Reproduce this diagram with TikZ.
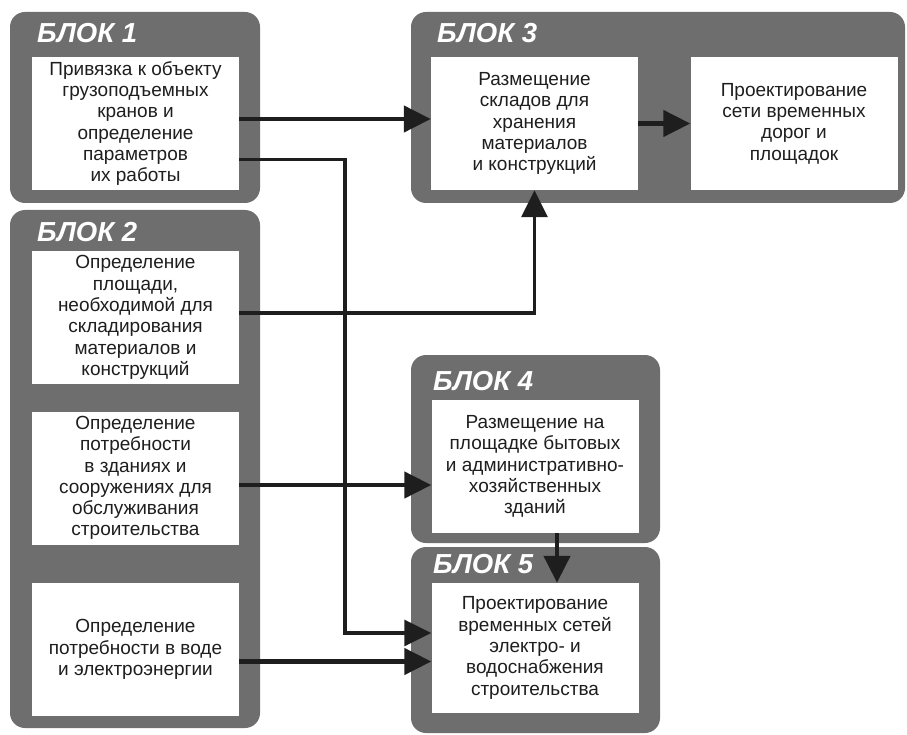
\documentclass[tikz,border=0pt]{standalone}
\usepackage{fontspec}
\setmainfont{Liberation Sans}
\usetikzlibrary{arrows.meta,positioning}
\definecolor{blockgray}{HTML}{6E6E6E}
\definecolor{ink}{HTML}{1E1E1E}

\begin{document}
\begin{tikzpicture}[x=1pt,y=-1pt,
  block/.style={fill=blockgray, rounded corners=15pt},
  cell/.style={fill=white, minimum width=207pt, minimum height=133pt, inner sep=0pt,
    align=center, text=ink, font=\fontsize{19}{21.3}\selectfont},
  title/.style={anchor=base west, text=white, inner sep=0pt,
    font=\fontsize{27.5}{27.5}\selectfont\bfseries\itshape},
  link/.style={draw=ink, line width=4.5pt, -{Triangle[length=27pt,width=26pt]}},
  thinlink/.style={link, line width=3.3pt}]
  \useasboundingbox (0,0) rectangle (907,735);

  % === BLOCK 1 ===
  \fill[block] (10,12) rectangle (260,203);
  \node[title] (t1) at (37,43) {БЛОК 1};
  \node[cell] (in11) at (135.5,123.5) {Привязка к объекту\\грузоподъемных\\кранов и\\определение\\параметров\\их работы};

  % === BLOCK 2 ===
  \fill[block] (10,210) rectangle (260,728);
  \node[title] (t2) at (37,242) {БЛОК 2};
  \node[cell] (in21) at (135.5,317.5) {Определение\\площади,\\необходимой для\\складирования\\материалов и\\конструкций};
  \node[cell] (in22) at (135.5,478) {Определение\\потребности\\в зданиях и\\сооружениях для\\обслуживания\\строительства};
  \node[cell] (in23) at (135.5,649.5) {Определение\\потребности в воде\\и электроэнергии};

  % === BLOCK 3 ===
  \fill[block] (411,12) rectangle (905,203);
  \node[title] (t3) at (437,43) {БЛОК 3};
  \node[cell] (in31) at (534.5,123.5) {Размещение\\складов для\\хранения\\материалов\\и конструкций};
  \node[cell] (in32) at (794,123.5) {Проектирование\\сети временных\\дорог и\\площадок};

  % === BLOCK 4 ===
  \fill[block] (411,355) rectangle (660,543);
  \node[title] (t4) at (433,390) {БЛОК 4};
  \node[cell] (in41) at (535,466.5) {Размещение на\\площадке бытовых\\и административно-\\хозяйственных\\зданий};

  % === BLOCK 5 ===
  \fill[block] (411,547) rectangle (660,733);
  \node[title] (t5) at (433,573) {БЛОК 5};
  \node[cell, minimum height=130pt] (in51) at (535,648) {Проектирование\\временных сетей\\электро- и\\водоснабжения\\строительства};

  % Links
  \coordinate (drop) at (345,159.5);
  \coordinate (turn) at (345,633);
  \draw[link] ([yshift=4.5pt]in11.east) -- ([yshift=4.5pt]in31.west);
  \draw[thinlink] ([yshift=-36pt]in11.east) -- (drop) -- (turn) -- (turn -| in51.west);
  \draw[thinlink] ([yshift=4.5pt]in21.east) -| (in31.south);
  \draw[link] ([yshift=-7pt]in22.east) -- ([yshift=-7pt]in22.east -| in41.west);
  \draw[link] ([yshift=-12pt]in23.east) -- ([yshift=-12pt]in23.east -| in51.west);
  \draw[link] (in31.east) -- (in32.west);
  \draw[link] ([xshift=22pt]in41.south) -- ([xshift=22pt]in51.north);
\end{tikzpicture}
\end{document}
